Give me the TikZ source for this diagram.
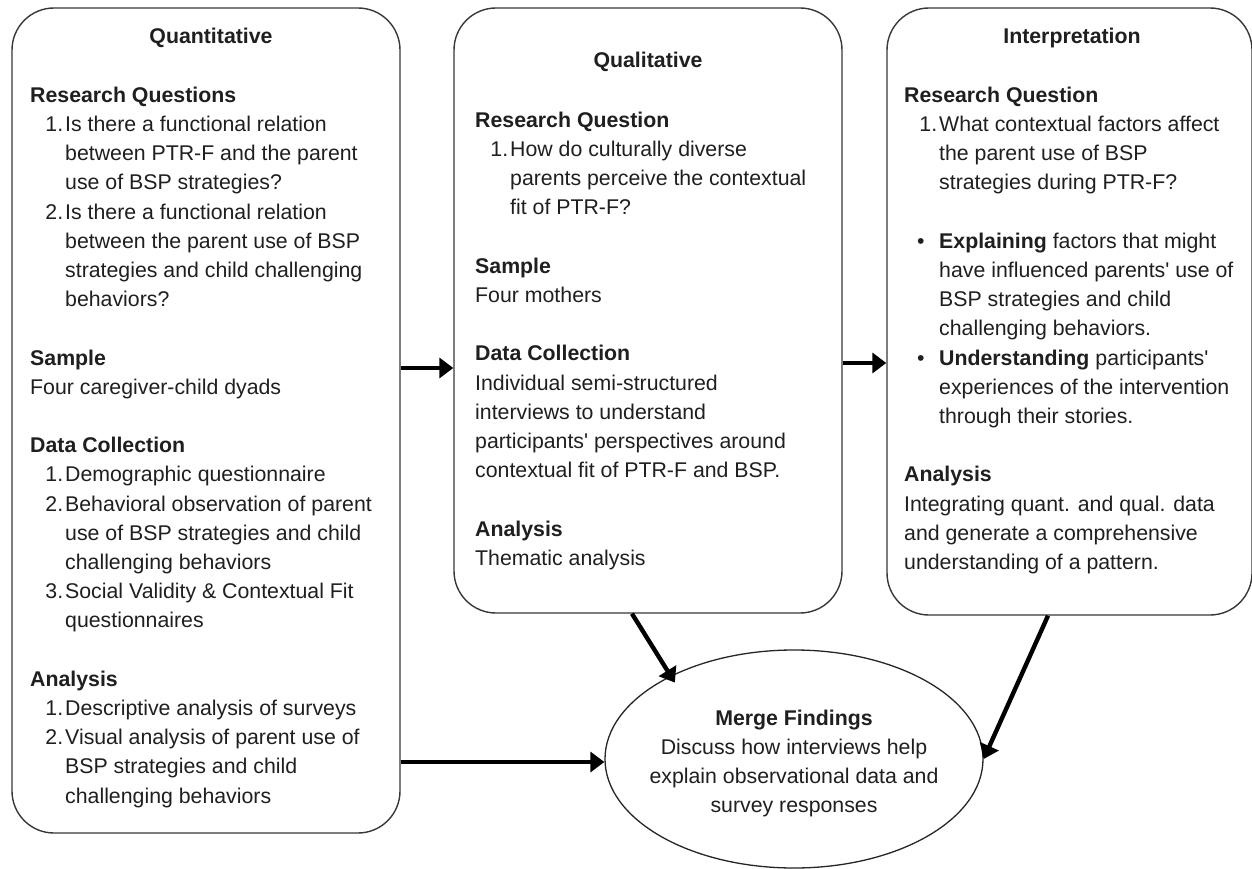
\documentclass[tikz,border=0pt]{standalone}
\usepackage{fontspec}
\setmainfont{Liberation Sans}[Ligatures=TeXOff]
\usetikzlibrary{arrows.meta,shapes.geometric}
\newcommand\nm[1]{\makebox[33pt][r]{#1}\hspace{2pt}}
\newcommand\ind{\hspace{35pt}}
\newcommand\bul{\makebox[35pt][l]{\hspace{13pt}•}}
\newcommand\fs{\rule{0pt}{20pt}}
\begin{document}
\begin{tikzpicture}[x=1pt,y=-1pt,
  box/.style={draw=black!78, line width=1.4pt, rounded corners=42pt, inner sep=0pt, rectangle},
  txt/.style={anchor=north west, inner sep=0pt, align=left, font=\fontsize{21.3}{29.2}\selectfont, text=black!88},
  ttl/.style={anchor=base, inner sep=0pt, font=\fontsize{21.3}{29.2}\selectfont\bfseries, text=black!88},
  arr/.style={line width=4.4pt, -{Triangle[length=14pt,width=20pt]}}
]
\useasboundingbox (0,0) rectangle (1252,869);
\fill[white] (0,0) rectangle (1252,869);

% boxes
\node[box, minimum width=388pt, minimum height=825pt] (L) at (206,420.5) {};
\node[box, minimum width=388pt, minimum height=605pt] (M) at (648,310.5) {};
\node[box, minimum width=365pt, minimum height=607pt] (R) at (1069.5,311.5) {};
\node[ellipse, draw=black!85, line width=1.3pt, minimum width=378pt, minimum height=218pt, inner sep=0pt] (E) at (794,759) {};

% titles
\node[ttl] (Lt) at (211,44) {Quantitative};
\node[ttl] (Mt) at (648,68) {Qualitative};
\node[ttl] (Rt) at (1072,44) {Interpretation};

% left content
\node[txt] (Lc) at (30,82) {\fs\textbf{Research Questions}\\
\nm{1.}Is there a functional relation\\
\ind between PTR-F and the parent\\
\ind use of BSP strategies?\\
\nm{2.}Is there a functional relation\\
\ind between the parent use of BSP\\
\ind strategies and child challenging\\
\ind behaviors?\\[29.2pt]
\textbf{Sample}\\
Four caregiver-child dyads\\[29.2pt]
\textbf{Data Collection}\\
\nm{1.}Demographic questionnaire\\
\nm{2.}Behavioral observation of parent\\
\ind use of BSP strategies and child\\
\ind challenging behaviors\\
\nm{3.}Social Validity \& Contextual Fit\\
\ind questionnaires\\[29.2pt]
\textbf{Analysis}\\
\nm{1.}Descriptive analysis of surveys\\
\nm{2.}Visual analysis of parent use of\\
\ind BSP strategies and child\\
\ind challenging behaviors};

% middle content
\node[txt] (Mc) at (475,107) {\fs\textbf{Research Question}\\
\nm{1.}How do culturally diverse\\
\ind parents perceive the contextual\\
\ind fit of PTR-F?\\[29.2pt]
\textbf{Sample}\\
Four mothers\\[29.2pt]
\textbf{Data Collection}\\
Individual semi-structured\\
interviews to understand\\
participants' perspectives around\\
contextual fit of PTR-F and BSP.\\[29.2pt]
\textbf{Analysis}\\
Thematic analysis};

% right content
\node[txt] (Rc) at (904,82) {\fs\textbf{Research Question}\\
\nm{1.}What contextual factors affect\\
\ind the parent use of BSP\\
\ind strategies during PTR-F?\\[29.2pt]
\bul\textbf{Explaining} factors that might\\
\ind have influenced parents' use of\\
\ind BSP strategies and child\\
\ind challenging behaviors.\\
\bul\textbf{Understanding} participants'\\
\ind experiences of the intervention\\
\ind through their stories.\\[29.2pt]
\textbf{Analysis}\\
Integrating quant. and qual. data\\
and generate a comprehensive\\
understanding of a pattern.};

% ellipse content
\node[txt, anchor=north, align=center] (Ec) at (794,705) {\fs\textbf{Merge Findings}\\
Discuss how interviews help\\
explain observational data and\\
survey responses};

% connectors
\coordinate (y1) at (0,368);
\coordinate (y2) at (0,363);
\coordinate (y3) at (0,762);
\coordinate (x1) at (632,0);
\coordinate (x2) at (1048,0);
\draw[arr] (L.east |- y1) -- (M.west |- y1);
\draw[arr] (M.east |- y2) -- (R.west |- y2);
\draw[arr] (L.east |- y3) -- (E.west |- y3);
\draw[arr, shorten >=-8pt] (M.south -| x1) -- (E.146);
\draw[arr] (R.south -| x2) -- (E.east);
\end{tikzpicture}
\end{document}
